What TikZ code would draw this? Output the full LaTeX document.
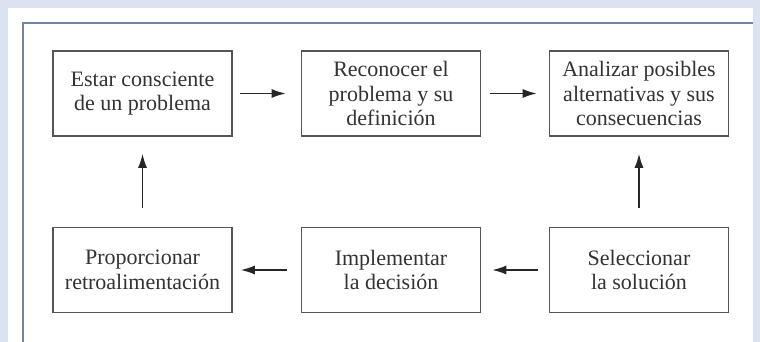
\documentclass[tikz,border=0pt]{standalone}
\usepackage{fontspec}
\setmainfont{Liberation Serif}
\usetikzlibrary{arrows.meta}
\definecolor{bgblue}{HTML}{DAE3EF}
\definecolor{framec}{HTML}{7483A0}
\definecolor{boxc}{HTML}{555555}
\definecolor{txtc}{HTML}{333333}
\tikzset{
  procbox/.style={draw=boxc, line width=1.6pt, minimum width=179pt, minimum height=85pt,
    inner sep=0pt, align=center, text=txtc, font=\fontsize{22}{24.5}\selectfont},
  flow/.style={draw=black!85, line width=1.4pt, -{Latex[length=14pt,width=9pt]}}
}
\begin{document}
\begin{tikzpicture}[x=1pt,y=-1pt]
\fill[bgblue] (0,0) rectangle (760,342);
\useasboundingbox (0,0) rectangle (760,342);
\fill[white] (8,8) rectangle (753,342);
\draw[framec, line width=2pt] (23,342) -- (23,23) -- (753,23);
\node[procbox] (b1) at (142.5,93.5) {Estar consciente\\de un problema};
\node[procbox] (b2) at (391,93.5) {Reconocer el\\problema y su\\definición};
\node[procbox] (b3) at (639,93.5) {Analizar posibles\\alternativas y sus\\consecuencias};
\node[procbox] (b4) at (142.5,270) {Proporcionar\\retroalimentación};
\node[procbox] (b5) at (391,270) {Implementar\\la decisión};
\node[procbox] (b6) at (639,270) {Seleccionar\\la solución};
\draw[flow, shorten <=7pt, shorten >=15pt] (b1.east) -- (b2.west);
\draw[flow, shorten <=9pt, shorten >=12pt] (b2.east) -- (b3.west);
\draw[flow, shorten <=19pt, shorten >=17pt] (b6.north) -- (b3.south);
\draw[flow, shorten <=11pt, shorten >=11pt] (b6.west) -- (b5.east);
\draw[flow, shorten <=14pt, shorten >=8pt] (b5.west) -- (b4.east);
\draw[flow, shorten <=19pt, shorten >=17pt] (b4.north) -- (b1.south);
\end{tikzpicture}
\end{document}
